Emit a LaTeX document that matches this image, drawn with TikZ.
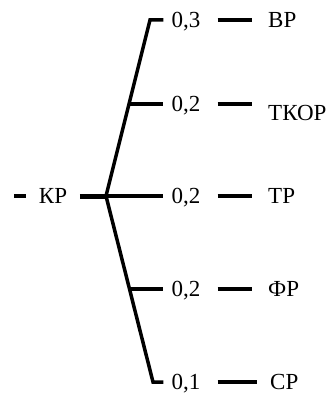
\documentclass[tikz,border=0pt]{standalone}
\usepackage{fontspec}
\setmainfont{Liberation Serif}
\usetikzlibrary{positioning, calc}

\begin{document}
\begin{tikzpicture}[
    x=1pt, y=-1pt,
    txt/.style={
        inner sep=0pt,
        text height=15pt,
        text depth=0pt,
        font=\fontsize{23}{26}\selectfont
    },
    val/.style={
        txt,
        inner xsep=8pt
    },
    bar/.style={
        line width=3.5pt
    },
    hubbar/.style={
        line width=5pt
    }
]
    \useasboundingbox (0,0) rectangle (330,396);

    % Root
    \node[txt, inner xsep=12.5pt] (kr) at (53,196) {КР};
    \coordinate (kr_in) at (14,196);
    \coordinate (hub) at (106,196);
    \draw[bar] (kr_in) -- (kr.west);
    \draw[hubbar] (kr.east) -- (hub);

    % Values
    \node[val] (v1) at (186,20) {0,3};
    \node[val] (v2) at (186,104) {0,2};
    \node[val] (v3) at (186,196) {0,2};
    \node[val] (v4) at (186,289) {0,2};
    \node[val] (v5) at (186,382) {0,1};

    % Results
    \node[txt, anchor=west] (r1) at (268,20) {ВР};
    \node[txt, anchor=west] (r2) at (268,113) {ТКОР};
    \node[txt, anchor=west] (r3) at (268,196) {ТР};
    \node[txt, anchor=west] (r4) at (268,289) {ФР};
    \node[txt, anchor=west] (r5) at (270,382) {СР};

    % Branches
    \coordinate (c1) at (150,20);
    \coordinate (c5) at (153,382);
    \draw[bar, line join=miter] (hub) -- (c1) coordinate[pos=0.52] (b2) -- (v1.west);
    \draw[bar, line join=miter] (hub) -- (c5) coordinate[pos=0.5] (b4) -- (v5.west);
    \draw[bar] (hub) -- (v3.west);
    \draw[bar] (b2 |- v2.west) -- (v2.west);
    \draw[bar] (b4 |- v4.west) -- (v4.west);

    % Dashes
    \draw[bar, shorten <=9pt, shorten >=16pt] (v1.east) -- (v1.east -| r1.west);
    \draw[bar, shorten <=9pt, shorten >=16pt] (v2.east) -- (v2.east -| r2.west);
    \draw[bar, shorten <=9pt, shorten >=16pt] (v3.east) -- (v3.east -| r3.west);
    \draw[bar, shorten <=9pt, shorten >=16pt] (v4.east) -- (v4.east -| r4.west);
    \draw[bar, shorten <=9pt, shorten >=13pt] (v5.east) -- (v5.east -| r5.west);

\end{tikzpicture}
\end{document}
